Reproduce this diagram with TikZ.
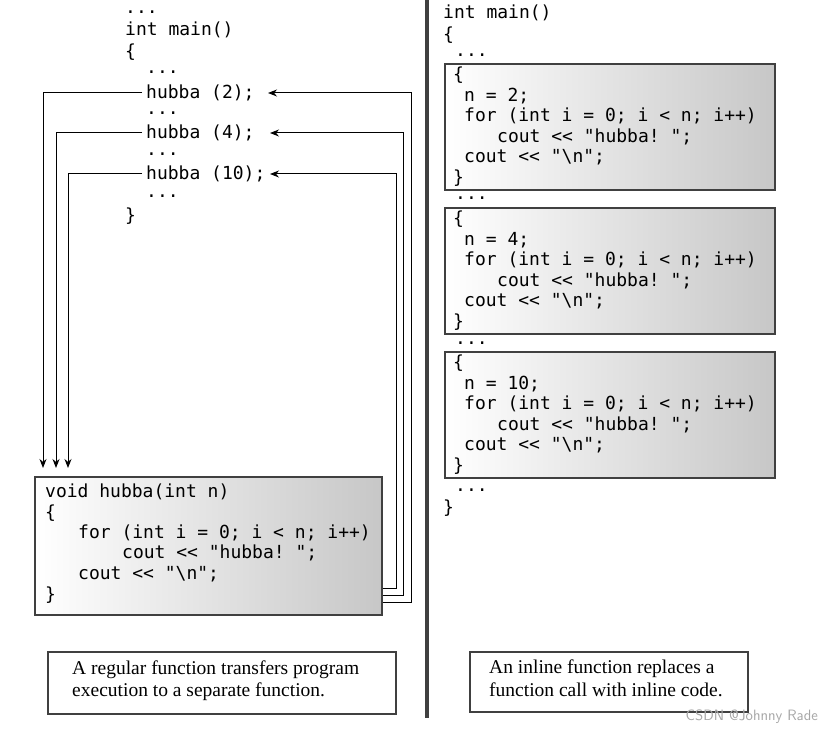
\documentclass[tikz,border=0pt]{standalone}
\usepackage{fontspec}
\setmainfont{Liberation Serif}
\setmonofont{DejaVu Sans Mono}
\usetikzlibrary{arrows.meta}
\begin{document}
\begin{tikzpicture}[x=1pt,y=-1pt,
  c/.style={anchor=west,inner sep=0pt,font=\ttfamily\fontsize{18}{20}\selectfont},
  captxt/.style={anchor=west,inner sep=0pt,font=\fontsize{19.5}{21}\selectfont},
  box/.style={draw=black!75,line width=2.5pt,left color=white,right color=black!22},
  cbox/.style={draw=black!75,line width=2.5pt,fill=white},
  ln/.style={line width=1pt},
  ar/.style={ln,-{Stealth[length=9pt,width=7pt]}}]
\useasboundingbox (0,0) rectangle (833,738);
% left main
\node[c] (d0) at (125,12) {...};
\node[c] (m) at (125,30) {int main()};
\node[c] (b0) at (125,52) {\{};
\node[c] (d1) at (146,72) {...};
\node[c] (h2) at (146,93) {hubba (2);};
\node[c] (d2) at (146,113) {...};
\node[c] (h4) at (146,133) {hubba (4);};
\node[c] (d3) at (146,154) {...};
\node[c] (h10) at (146,174) {hubba (10);};
\node[c] (d4) at (146,196) {...};
\node[c] (b1) at (125,216) {\}};
% function box
\path[box] (35,477) rectangle (382,615);
\node[c] (f1) at (45,492) {void hubba(int n)};
\node[c] (f2) at (45,513) {\{};
\node[c] (f3) at (78,533) {for (int i = 0; i < n; i++)};
\node[c] (f4) at (122,553) {cout << "hubba! ";};
\node[c] (f5) at (78,574) {cout << "\textbackslash n";};
\node[c] (f6) at (45,595) {\}};
\coordinate (t1) at (43,468);
\coordinate (t2) at (56,468);
\coordinate (t3) at (68,468);
\draw[ar] (h2.west) ++(-4,0) -| (t1);
\draw[ar] (h4.west) ++(-4,0) -| (t2);
\draw[ar] (h10.west) ++(-4,0) -| (t3);
\draw[ar] (383,602) -- (411,602) |- (268,93);
\draw[ar] (383,595) -- (403,595) |- (270,133);
\draw[ar] (383,588) -- (396,588) |- (270,174);
% divider
\draw[line width=3.5pt,black!75] (427,0) -- (427,718);
% right
\node[c] (rm) at (443,13) {int main()};
\node[c] (rb) at (443,35) {\{};
\node[c] (rd0) at (455,55) {...};
\foreach \y/\n/\k in {64/2/a,208/4/b,352/10/c}{
  \path[box] (445,\y) rectangle (775,\y+126);
  \node[c] (\k1) at (453,\y+11) {\{};
  \node[c] (\k2) at (464,\y+32) {n = \n;};
  \node[c] (\k3) at (464,\y+52) {for (int i = 0; i < n; i++)};
  \node[c] (\k4) at (497,\y+73) {cout << "hubba! ";};
  \node[c] (\k5) at (464,\y+93) {cout << "\textbackslash n";};
  \node[c] (\k6) at (453,\y+114) {\}};
}
\node[c] (rd1) at (455,198) {...};
\node[c] (rd2) at (455,343) {...};
\node[c] (rd3) at (455,490) {...};
\node[c] (re) at (443,508) {\}};
% captions
\path[cbox] (48,652) rectangle (396,714);
\node[captxt] (l1) at (72,670) {A regular function transfers program};
\node[captxt] (l2) at (72,692) {execution to a separate function.};
\path[cbox] (470,652) rectangle (748,712);
\node[captxt] (r1) at (489,669) {An inline function replaces a};
\node[captxt] (r2) at (489,690) {function call with inline code.};
\node[anchor=east,inner sep=0pt,text=black!35,font=\sffamily\fontsize{15}{15}\selectfont] (wm) at (818,717) {CSDN @Johnny Rade};
\end{tikzpicture}
\end{document}
